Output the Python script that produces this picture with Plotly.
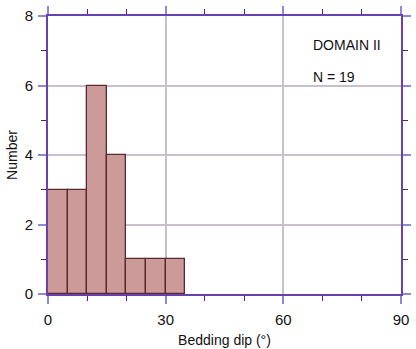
import plotly.graph_objects as go

bin_left = [0, 5, 10, 15, 20, 25, 30]
counts = [3, 3, 6, 4, 1, 1, 1]
bin_width = 5
x_ticks = [0, 30, 60, 90]
y_ticks = [0, 2, 4, 6, 8]
domain_label = "DOMAIN II"
n_label = "N = 19"

fig = go.Figure()
fig.add_trace(go.Bar(
    x=[b + bin_width / 2 for b in bin_left], y=counts, width=bin_width,
    marker=dict(color="#cc9a99", line=dict(color="#5a2a2e", width=1.3)),
))

fam = "Liberation Sans, Arial, sans-serif"
font = dict(family=fam, size=15, color="#111111")
tfont = dict(family=fam, size=14, color="#111111")
axis_common = dict(
    showline=True, linecolor="#6a3fb0", linewidth=2, mirror="allticks",
    ticks="outside", ticklen=8, tickcolor="#8a8ad8", tickwidth=2,
    gridcolor="#c8c0cc", gridwidth=1.5, zeroline=False,
    tickfont=font, automargin=False,
)
fig.update_xaxes(
    range=[0, 90], tickvals=x_ticks, **axis_common, ticklabelstandoff=3,
    minor=dict(dtick=10, ticklen=5, tickcolor="#4a2080", tickwidth=1.3, showgrid=False, ticks="outside"),
    title=dict(text="Bedding dip (°)", font=tfont, standoff=8),
)
fig.update_yaxes(
    range=[0, 8], tickvals=y_ticks, **axis_common, ticklabelstandoff=2,
    minor=dict(dtick=1, ticklen=5, tickcolor="#4a2080", tickwidth=1.3, showgrid=False, ticks="outside"),
    title=dict(text="Number", font=tfont, standoff=4),
)
fig.add_annotation(x=0.745, y=0.93, xref="paper", yref="paper", text=domain_label,
                   showarrow=False, xanchor="left", font=tfont)
fig.add_annotation(x=0.745, y=0.815, xref="paper", yref="paper", text=n_label,
                   showarrow=False, xanchor="left", font=tfont)
fig.update_layout(
    width=416, height=349, margin=dict(l=48, r=15, t=16, b=55, autoexpand=False),
    plot_bgcolor="white", paper_bgcolor="white", showlegend=False, bargap=0,
)
fig.write_html("out.html")
